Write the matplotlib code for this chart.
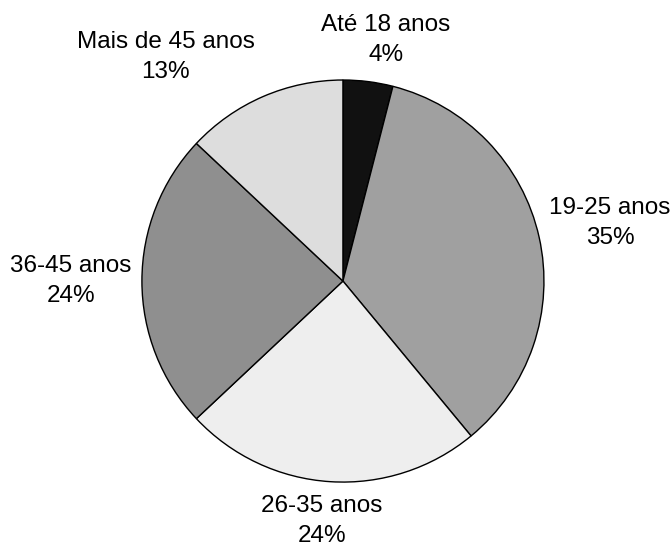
import matplotlib.pyplot as plt

# dados: faixa etaria
faixas = ["Até 18 anos", "19-25 anos", "26-35 anos", "36-45 anos", "Mais de 45 anos"]
percentuais = [4, 35, 24, 24, 13]
cores = ["#111111", "#a0a0a0", "#eeeeee", "#8f8f8f", "#dddddd"]

# posicao dos rotulos (unidades do raio)
rotulo_pos = [(0.214, 1.199), (1.328, 0.289), (-0.104, -1.194), (-1.353, 0.0), (-0.881, 1.114)]

plt.rcParams['font.family'] = ['Liberation Sans', 'DejaVu Sans']

fig = plt.figure(figsize=(6.71, 5.46), dpi=100)
ax = fig.add_axes([0, 0, 1, 1])

ax.pie(percentuais, colors=cores, startangle=90, counterclock=False,
       radius=1.0, wedgeprops=dict(edgecolor='black', linewidth=1.0))

for nome, pct, (x, y) in zip(faixas, percentuais, rotulo_pos):
    ax.text(x, y, f"{nome}\n{pct}%", ha='center', va='center',
            fontsize=17.5, linespacing=1.45)

ax.set_xlim(-1.706, 1.632)
ax.set_ylim(-1.318, 1.398)
ax.set_aspect('auto')
ax.axis('off')

fig.savefig("out.png", dpi=100)
